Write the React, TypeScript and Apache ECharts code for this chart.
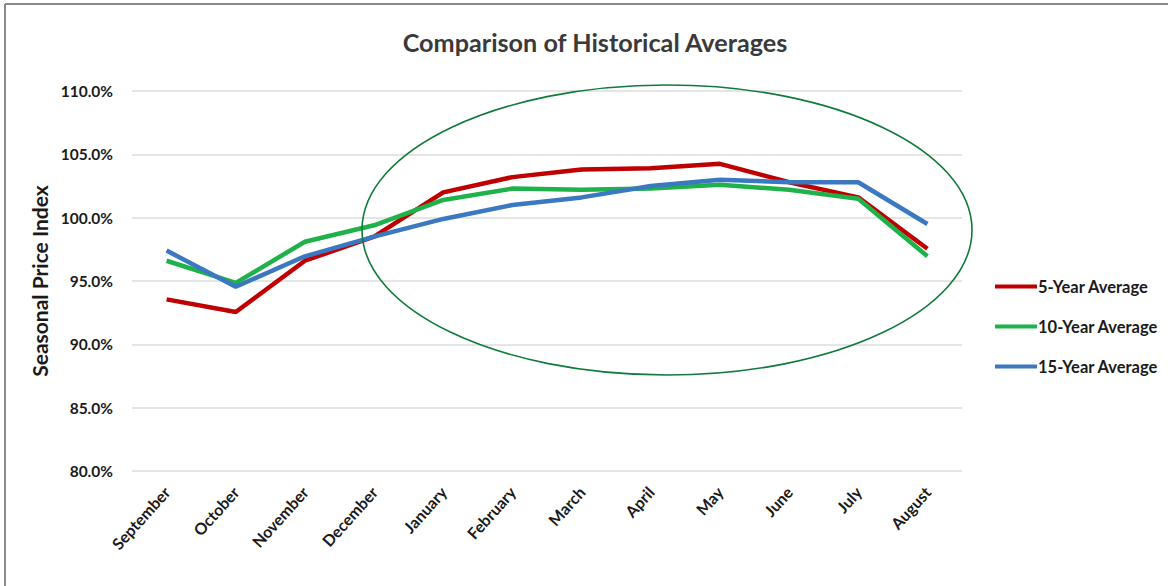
import React, { useEffect, useRef } from "react";
import * as echarts from "echarts";

const months = ["September", "October", "November", "December", "January", "February", "March", "April", "May", "June", "July", "August"];
const fiveYear = [93.55, 92.55, 96.6, 98.5, 102.0, 103.2, 103.8, 103.9, 104.25, 102.8, 101.6, 97.55];
const tenYear = [96.6, 94.85, 98.1, 99.4, 101.4, 102.3, 102.2, 102.3, 102.6, 102.2, 101.5, 96.95];
const fifteenYear = [97.4, 94.55, 96.95, 98.5, 99.9, 101.0, 101.6, 102.5, 103.0, 102.8, 102.8, 99.5];

const FONT = "Lato, 'Open Sans', sans-serif";

export default function App() {
  const ref = useRef<HTMLDivElement>(null);
  useEffect(() => {
    document.body.style.margin = "0";
    const chart = echarts.init(ref.current!, null, { renderer: "svg" });
    chart.setOption({
      animation: false,
      backgroundColor: "#ffffff",
      title: {
        text: "Comparison of Historical Averages",
        left: 590,
        textAlign: "center",
        top: 24,
        textStyle: { fontFamily: FONT, fontSize: 25.2, fontWeight: "bold", color: "#3a3a3a" },
      },
      legend: {
        orient: "vertical",
        left: 990,
        top: 273,
        itemWidth: 42,
        itemHeight: 4,
        itemGap: 23,
        icon: "rect",
        textStyle: { fontFamily: FONT, fontSize: 16.5, lineHeight: 17, fontWeight: "bold", color: "#1a1a1a", padding: [0, 0, 0, -4] },
        data: ["5-Year Average", "10-Year Average", "15-Year Average"],
      },
      grid: { left: 132, right: 206, top: 91, bottom: 115, containLabel: false },
      xAxis: {
        type: "category",
        data: months,
        boundaryGap: true,
        axisLine: { show: false },
        axisTick: { show: false },
        axisLabel: {
          rotate: 48,
          interval: 0,
          margin: 18,
          fontFamily: FONT,
          fontSize: 16,
          fontWeight: "bold",
          color: "#1a1a1a",
        },
      },
      yAxis: {
        type: "value",
        min: 80,
        max: 110,
        interval: 5,
        name: "Seasonal Price Index",
        nameLocation: "middle",
        nameGap: 82,
        nameTextStyle: { fontFamily: FONT, fontSize: 21, fontWeight: "bold", color: "#1a1a1a" },
        axisLine: { show: false },
        axisTick: { show: false },
        splitLine: { lineStyle: { color: "#dcdcdc", width: 1.5 } },
        axisLabel: {
          margin: 19,
          fontFamily: FONT,
          fontSize: 15.5,
          fontWeight: "bold",
          color: "#1a1a1a",
          formatter: (v: number) => v.toFixed(1) + "%",
        },
      },
      series: [
        { name: "5-Year Average", type: "line", data: fiveYear, symbol: "none", color: "#c00000", lineStyle: { width: 4.5, color: "#c00000" } },
        { name: "10-Year Average", type: "line", data: tenYear, symbol: "none", color: "#1fb24a", lineStyle: { width: 4.5, color: "#1fb24a" } },
        { name: "15-Year Average", type: "line", data: fifteenYear, symbol: "none", color: "#3a78c0", lineStyle: { width: 4.5, color: "#3a78c0" } },
      ],
      graphic: [
        { type: "line", shape: { x1: 5, y1: 4, x2: 1168, y2: 4 }, style: { stroke: "#8a8a8a", lineWidth: 2 }, silent: true },
        { type: "line", shape: { x1: 5, y1: 4, x2: 5, y2: 586 }, style: { stroke: "#8a8a8a", lineWidth: 2 }, silent: true },
        {
          type: "ellipse",
          shape: { cx: 667, cy: 230, rx: 305, ry: 145 },
          style: { fill: "none", stroke: "#117a3a", lineWidth: 1.6 },
          silent: true,
          z: 10,
        },
      ],
    });
    return () => chart.dispose();
  }, []);
  return <div ref={ref} style={{ width: 1168, height: 586 }} />;
}
